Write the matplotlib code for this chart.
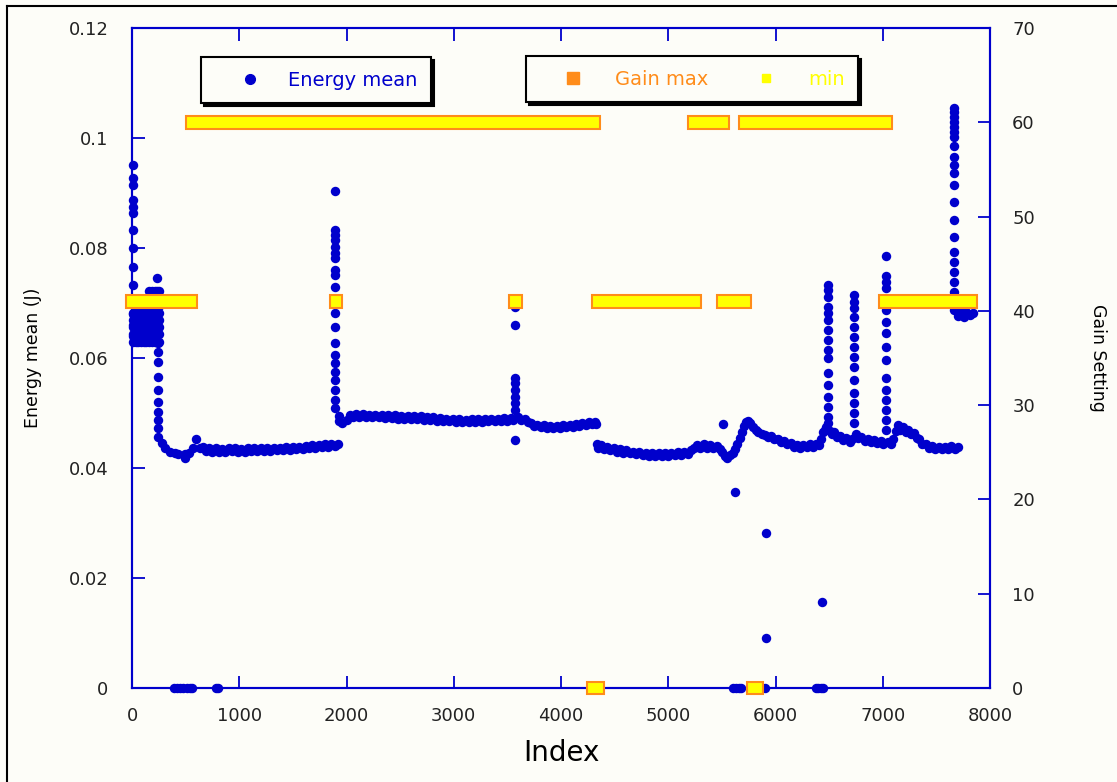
import numpy as np
import matplotlib.pyplot as plt
from matplotlib.lines import Line2D

# Energy mean (J) vs index.
# Start: spike at index ~0, then a dense blob of points up to index ~260.
idx_start = [5]*14 + [10, 35, 60, 85, 110, 135]*5 + [160, 185, 210, 235, 255]*8 + [235]
e_start = ([0.0951, 0.0928, 0.0915, 0.0887, 0.0875, 0.0864, 0.0833, 0.080, 0.0766, 0.0733, 0.070, 0.068, 0.066, 0.064]
           + [0.0630]*6 + [0.0643]*6 + [0.0656]*6 + [0.0669]*6 + [0.0682]*6
           + [0.0630]*5 + [0.0643]*5 + [0.0656]*5 + [0.0669]*5 + [0.0682]*5 + [0.0695]*5 + [0.0708]*5 + [0.0721]*5
           + [0.0745])

idx_drop = [242]*10 + [280, 308, 354, 400, 430]
e_drop = [0.0627, 0.0611, 0.0593, 0.0565, 0.0542, 0.052, 0.0502, 0.0487, 0.0473, 0.0456,
          0.0445, 0.0436, 0.0429, 0.0427, 0.0426]

idx_seg2 = [495, 495, 530, 570, 600, 630, 660, 690, 720, 750, 780, 810, 840, 870, 900, 930, 960, 990, 1020,
            1050, 1080, 1110, 1140, 1170, 1200, 1230, 1260, 1290, 1320, 1350, 1380, 1410, 1440, 1470, 1500,
            1530, 1560, 1590, 1620, 1650, 1680, 1710, 1740, 1770, 1800, 1830, 1860, 1890, 1920]
e_seg2 = [0.0418, 0.0425, 0.0428, 0.0437, 0.0452, 0.0436, 0.0438, 0.0431, 0.0436, 0.0430, 0.0436, 0.0430,
          0.0435, 0.0430, 0.0436, 0.0431, 0.0436, 0.0430, 0.0435, 0.0430, 0.0436, 0.0431, 0.0436, 0.0431,
          0.0437, 0.0431, 0.0436, 0.0431, 0.0437, 0.0432, 0.0437, 0.0432, 0.0438, 0.0433, 0.0438, 0.0434,
          0.0439, 0.0435, 0.0440, 0.0436, 0.0441, 0.0437, 0.0442, 0.0438, 0.0443, 0.0439, 0.0444, 0.0440,
          0.0444]

idx_spk1 = [1893]*21
e_spk1 = [0.0904, 0.0833, 0.0824, 0.0815, 0.0802, 0.0791, 0.0782, 0.0760, 0.0751, 0.0729, 0.0702, 0.0682,
          0.0656, 0.0627, 0.0605, 0.0591, 0.0575, 0.0560, 0.0542, 0.0524, 0.0509]

idx_seg3 = [1930, 1930, 1960, 2000, 2030, 2060, 2090, 2120, 2150, 2180, 2210, 2240, 2270, 2300, 2330, 2360,
            2390, 2420, 2450, 2480, 2510, 2540, 2570, 2600, 2630, 2660, 2690, 2720, 2750, 2780, 2810, 2840,
            2870, 2900, 2930, 2960, 2990, 3020, 3050, 3080, 3110, 3140, 3170, 3200, 3230, 3260, 3290, 3320,
            3350, 3380, 3410, 3440, 3470, 3500, 3530, 3555]
e_seg3 = [0.0495, 0.0485, 0.0482, 0.0487, 0.0497, 0.0492, 0.0499, 0.0493, 0.0498, 0.0493, 0.0497, 0.0492,
          0.0497, 0.0492, 0.0497, 0.0491, 0.0496, 0.0491, 0.0496, 0.0490, 0.0495, 0.0490, 0.0495, 0.0489,
          0.0494, 0.0489, 0.0494, 0.0488, 0.0493, 0.0487, 0.0492, 0.0486, 0.0491, 0.0485, 0.0490, 0.0485,
          0.0490, 0.0484, 0.0489, 0.0484, 0.0488, 0.0483, 0.0489, 0.0484, 0.0489, 0.0484, 0.0489, 0.0485,
          0.0490, 0.0485, 0.0490, 0.0486, 0.0491, 0.0486, 0.0491, 0.0487]

idx_spk2 = [3570]*9
e_spk2 = [0.0693, 0.066, 0.0564, 0.0555, 0.0542, 0.0529, 0.0518, 0.0505, 0.0451]

idx_seg4 = [3600, 3630, 3660, 3690, 3720, 3750, 3780, 3810, 3840, 3870, 3900, 3930, 3960, 3990, 4020, 4050,
            4080, 4110, 4140, 4170, 4200, 4230, 4260, 4290, 4320, 4330]
e_seg4 = [0.0492, 0.0488, 0.0489, 0.0483, 0.0482, 0.0477, 0.0479, 0.0474, 0.0478, 0.0473, 0.0477, 0.0473,
          0.0477, 0.0473, 0.0478, 0.0474, 0.0479, 0.0475, 0.0480, 0.0476, 0.0481, 0.0478, 0.0484, 0.0480,
          0.0484, 0.0480]

idx_seg5 = [4335, 4345, 4370, 4400, 4430, 4460, 4490, 4520, 4550, 4580, 4610, 4640, 4670, 4700, 4730, 4760,
            4790, 4820, 4850, 4880, 4910, 4940, 4970, 5000, 5030, 5060, 5090, 5120, 5150, 5180, 5210, 5240,
            5270, 5300, 5330, 5360, 5390, 5420, 5450, 5480, 5505, 5525, 5550, 5575, 5600, 5625, 5645, 5665,
            5685, 5705, 5725, 5745, 5765, 5790, 5815, 5840, 5870, 5900, 5930, 5960, 5990, 6020, 6050, 6080,
            6110, 6140, 6170, 6200, 6230, 6260, 6290, 6320, 6350, 6380, 6405]
e_seg5 = [0.0443, 0.0437, 0.0441, 0.0435, 0.0438, 0.0432, 0.0436, 0.0430, 0.0434, 0.0428, 0.0432, 0.0427,
          0.0430, 0.0425, 0.0429, 0.0423, 0.0428, 0.0422, 0.0427, 0.0421, 0.0427, 0.0421, 0.0427, 0.0422,
          0.0428, 0.0423, 0.0429, 0.0424, 0.0430, 0.0425, 0.0433, 0.0436, 0.0442, 0.0437, 0.0443, 0.0437,
          0.0442, 0.0436, 0.0440, 0.0434, 0.0430, 0.0422, 0.0418, 0.0424, 0.0428, 0.0434, 0.0444, 0.0455,
          0.0466, 0.0476, 0.0484, 0.0486, 0.0482, 0.0474, 0.0469, 0.0466, 0.0462, 0.0460, 0.0456, 0.0458,
          0.0452, 0.0453, 0.0447, 0.0449, 0.0443, 0.0445, 0.0439, 0.0442, 0.0437, 0.0441, 0.0438, 0.0443,
          0.0439, 0.0444, 0.0441]

# isolated low points
idx_odd = [5510, 5620, 5910, 5910, 6430]
e_odd = [0.048, 0.0356, 0.0282, 0.0091, 0.0156]

idx_seg6 = ([6420, 6440, 6460, 6475] + [6490]*16 + [6510, 6530, 6550, 6570, 6600, 6630, 6660, 6690, 6710]
            + [6730]*14 + [6750, 6770, 6800, 6830, 6860, 6890, 6920, 6950, 6980, 7005])
e_seg6 = [0.0452, 0.0465, 0.0470, 0.0474,
          0.0733, 0.0724, 0.0711, 0.0693, 0.0682, 0.0669, 0.0651, 0.0633, 0.0615, 0.0600, 0.0573, 0.0551,
          0.0529, 0.0511, 0.0493, 0.0482,
          0.0468, 0.0462, 0.0465, 0.0457, 0.0458, 0.0451, 0.0454, 0.0448, 0.0452,
          0.0715, 0.0702, 0.0691, 0.0675, 0.0656, 0.0638, 0.0620, 0.0602, 0.0584, 0.0560, 0.0536, 0.0518,
          0.0500, 0.0482,
          0.0462, 0.0455, 0.0457, 0.0450, 0.0453, 0.0447, 0.0451, 0.0445, 0.0449, 0.0444]

idx_seg7 = ([7030]*15 + [7050, 7075, 7100, 7120, 7140, 7165, 7190, 7215, 7240, 7265, 7290, 7315, 7340, 7370,
                         7400, 7430, 7460, 7490, 7520, 7550, 7580, 7610, 7640, 7670, 7700])
e_seg7 = [0.0785, 0.0750, 0.0738, 0.0727, 0.0687, 0.0665, 0.0645, 0.0620, 0.0596, 0.0564, 0.0542, 0.0524,
          0.0505, 0.0487, 0.0469,
          0.0448, 0.0443, 0.0452, 0.0468, 0.0478, 0.0470, 0.0474, 0.0466, 0.0469, 0.0461, 0.0463, 0.0455,
          0.0452, 0.0444, 0.0443, 0.0436, 0.0440, 0.0434, 0.0439, 0.0434, 0.0439, 0.0434, 0.0440, 0.0435,
          0.0439]

idx_spk3 = [7660]*22 + [7690, 7720, 7750, 7780, 7810, 7840, 7700, 7760]
e_spk3 = [0.1055, 0.1047, 0.1038, 0.1029, 0.1020, 0.1011, 0.1002, 0.0985, 0.0965, 0.0951, 0.0936, 0.0915,
          0.0884, 0.0851, 0.0820, 0.0793, 0.0775, 0.0756, 0.0738, 0.0720, 0.0705, 0.0687,
          0.0688, 0.0683, 0.0679, 0.0683, 0.0678, 0.0681, 0.0676, 0.0674]

idx_zero = [390, 420, 450, 480, 510, 540, 560, 780, 800, 5600, 5630, 5660, 5680, 5900, 6380, 6400, 6420, 6440]
e_zero = [0.0]*len(idx_zero)

# Gain setting runs: start index, end index, gain
gain_start = [503, 5184, 5660, -56, 1846, 3515, 4289, 5455, 6965, 4243, 5734]
gain_end = [4364, 5566, 7086, 606, 1958, 3636, 5305, 5772, 7879, 4401, 5883]
gain_value = [60, 60, 60, 41, 41, 41, 41, 41, 41, 0, 0]

xticks = [0, 1000, 2000, 3000, 4000, 5000, 6000, 7000, 8000]
yticks = [0, 0.02, 0.04, 0.06, 0.08, 0.1, 0.12]
ytick_labels = ['0', '0.02', '0.04', '0.06', '0.08', '0.1', '0.12']
gticks = [0, 10, 20, 30, 40, 50, 60, 70]

blue = '#0000cc'
orange = '#ff8c1a'
yellow = '#ffff00'
bg = '#fdfdf8'

idx_all = (idx_start + idx_drop + idx_seg2 + idx_spk1 + idx_seg3 + idx_spk2 + idx_seg4 + idx_seg5
           + idx_odd + idx_seg6 + idx_seg7 + idx_spk3 + idx_zero)
e_all = (e_start + e_drop + e_seg2 + e_spk1 + e_seg3 + e_spk2 + e_seg4 + e_seg5
         + e_odd + e_seg6 + e_seg7 + e_spk3 + e_zero)

fig = plt.figure(figsize=(11.17, 7.82), dpi=100, facecolor=bg)
ax = fig.add_axes([132/1117, 1-688/782, (990-132)/1117, (688-28)/782])
ax.set_facecolor(bg)
ax.plot(idx_all, e_all, 'o', color=blue, markersize=6.8, markeredgewidth=0, clip_on=False, zorder=3)
ax.set_xlim(0, 8000)
ax.set_ylim(0, 0.12)
ax.set_xticks(xticks)
ax.set_yticks(yticks)
ax.set_yticklabels(ytick_labels)
ax.tick_params(axis='x', direction='in', top=True, length=9, width=1.3, color=blue,
               labelsize=13, labelcolor='#222222', pad=14)
ax.tick_params(axis='y', direction='in', length=9, width=1.3, color=blue,
               labelsize=13, labelcolor='#222222', pad=17)
for s in ax.spines.values():
    s.set_color(blue)
    s.set_linewidth(1.5)
ax.set_xlabel('Index', fontsize=20, labelpad=10)
ax.set_ylabel('Energy mean (J)', fontsize=12.5, labelpad=19)

# gain on the right axis
ax2 = ax.twinx()
ax2.barh(gain_value, np.array(gain_end) - np.array(gain_start), left=gain_start, height=1.35,
         color=yellow, edgecolor=orange, linewidth=1.5, clip_on=False, zorder=4)
ax2.set_ylim(0, 70)
ax2.set_yticks(gticks)
ax2.tick_params(axis='y', direction='in', length=9, width=1.3, color=blue,
                labelsize=13, labelcolor='#222222', pad=16)
for s in ax2.spines.values():
    s.set_color(blue)
    s.set_linewidth(1.5)
ax2.set_ylabel('Gain Setting', fontsize=12.5, rotation=270, labelpad=52)

# legends
shadow = {'facecolor': 'black', 'edgecolor': 'black', 'alpha': 1.0}
h1 = [Line2D([], [], marker='o', ls='', color=blue, markersize=7)]
leg1 = ax2.legend(h1, ['Energy mean'], loc='upper left', bbox_to_anchor=(201/1117, 1-57/782),
                  bbox_transform=fig.transFigure, fontsize=14, labelcolor=[blue], frameon=True,
                  fancybox=False, shadow=shadow, borderpad=0.7, borderaxespad=0,
                  handletextpad=0.12, handlelength=3.65)
leg1.get_frame().set_edgecolor('black')
leg1.get_frame().set_linewidth(1.5)
leg1.get_frame().set_facecolor(bg)
ax2.add_artist(leg1)

h2 = [Line2D([], [], marker='s', ls='', color=orange, markersize=9),
      Line2D([], [], marker='s', ls='', color=yellow, markersize=6)]
leg2 = ax2.legend(h2, ['Gain max', 'min'], loc='upper left', bbox_to_anchor=(526/1117, 1-56/782),
                  bbox_transform=fig.transFigure, fontsize=14, labelcolor=[orange, yellow], ncol=2,
                  frameon=True, fancybox=False, shadow=shadow, borderpad=0.7, borderaxespad=0,
                  handletextpad=0.43, handlelength=3.45, columnspacing=1.26)
leg2.get_frame().set_edgecolor('black')
leg2.get_frame().set_linewidth(1.5)
leg2.get_frame().set_facecolor(bg)

# outer frame lines
fig.add_artist(Line2D([7/1117, 7/1117], [0, 1-6/782], color='black', lw=1.5))
fig.add_artist(Line2D([7/1117, 1], [1-6/782, 1-6/782], color='black', lw=1.5))

fig.savefig('out.png', dpi=100, facecolor=bg)
